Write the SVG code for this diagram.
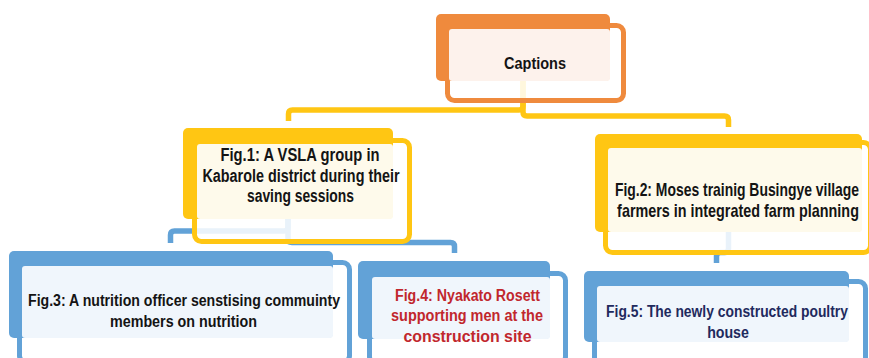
<svg xmlns="http://www.w3.org/2000/svg" width="869" height="358" viewBox="0 0 869 358">
<style>
.bg{fill:#ffffff}
.conn{fill:none;stroke-width:5.5;stroke-linejoin:round}
.cy{stroke:#FFC613}
.cb{stroke:#62A2D7}
.frame{fill:#ffffff;fill-opacity:0.86;stroke-width:5}
.o .fill{fill:#EF8A3D}.o .frame{stroke:#EF8A3D}.o .lite{fill:#FDF2EC}
.y .fill{fill:#FFC613}.y .frame{stroke:#FFC613}.y .lite{fill:#FEFAEB}
.b .fill{fill:#62A2D7}.b .frame{stroke:#62A2D7}.b .lite{fill:#F0F6FC}
text{font-family:"Liberation Sans",Arial,sans-serif;font-weight:bold;text-anchor:middle;fill:#141414}
.red{fill:#C1272D}
.navy{fill:#1F2A5E}
</style>
<rect class="bg" x="0" y="0" width="869" height="358"/>
<g id="connectors">
<path class="conn cy" d="M523,75 V106 Q523,110 519,110 H292.5 Q288.5,110 288.5,114 V121"/>
<path class="conn cy" d="M523,75 V112 Q523,116 527,116 H724.5 Q728.5,116 728.5,120 V127"/>
<path class="conn cb" d="M288,215 V227 Q288,231 284,231 H174.5 Q170.5,231 170.5,235 V243"/>
<path class="conn cb" d="M288,215 V238.5 Q288,242.5 292,242.5 H450.5 Q454.5,242.5 454.5,246.5 V253"/>
<path class="conn cb" d="M728.5,225 V248.5 Q728.5,252.5 724.5,252.5 H720.5 Q716.5,252.5 716.5,256.5 V263"/>
</g>
<g id="captions" class="o">
<rect class="frame" x="447.5" y="25.5" width="176" height="75" rx="7"/>
<rect class="fill" x="436" y="14" width="174" height="67" rx="5"/>
<rect class="lite" x="449" y="29" width="161" height="52" rx="3"/>
<text x="535" y="69" font-size="17" textLength="62" lengthAdjust="spacingAndGlyphs">Captions</text>
</g>
<g id="fig1" class="y">
<rect class="frame" x="194.5" y="140.5" width="215" height="101" rx="7"/>
<rect class="fill" x="183" y="128" width="210" height="91" rx="5"/>
<rect class="lite" x="197" y="144" width="196" height="75" rx="3"/>
<text x="300" y="161" font-size="18" textLength="159" lengthAdjust="spacingAndGlyphs">Fig.1: A VSLA group in</text>
<text x="301" y="182" font-size="18" textLength="197" lengthAdjust="spacingAndGlyphs">Kabarole district during their</text>
<text x="300.5" y="202" font-size="18" textLength="107" lengthAdjust="spacingAndGlyphs">saving sessions</text>
</g>
<g id="fig2" class="y">
<rect class="frame" x="605.5" y="142.5" width="265" height="110" rx="7"/>
<rect class="fill" x="595" y="134" width="267" height="98" rx="5"/>
<rect class="lite" x="608" y="148" width="254" height="84" rx="3"/>
<text transform="translate(737,196) scale(0.78,1)" x="0" y="0" font-size="18" textLength="313" lengthAdjust="spacingAndGlyphs">Fig.2: Moses trainig Busingye village</text>
<text transform="translate(738,217) scale(0.78,1)" x="0" y="0" font-size="18" textLength="310" lengthAdjust="spacingAndGlyphs">farmers in integrated farm planning</text>
</g>
<g id="fig3" class="b">
<rect class="frame" x="19.5" y="262.5" width="330" height="100" rx="7"/>
<rect class="fill" x="9" y="251" width="324" height="87" rx="5"/>
<rect class="lite" x="22" y="266" width="311" height="72" rx="3"/>
<text x="184" y="306" font-size="16" textLength="312" lengthAdjust="spacingAndGlyphs">Fig.3: A nutrition officer senstising commuinty</text>
<text x="183.5" y="327" font-size="16" textLength="147" lengthAdjust="spacingAndGlyphs">members on nutrition</text>
</g>
<g id="fig4" class="b">
<rect class="frame" x="369.5" y="273.5" width="196" height="90" rx="7"/>
<rect class="fill" x="358" y="261" width="192" height="78" rx="5"/>
<rect class="lite" x="372" y="277" width="178" height="62" rx="3"/>
<text class="red" x="467.5" y="300.5" font-size="16" textLength="145" lengthAdjust="spacingAndGlyphs">Fig.4: Nyakato Rosett</text>
<text class="red" x="467" y="321" font-size="16" textLength="152" lengthAdjust="spacingAndGlyphs">supporting men at the</text>
<text class="red" x="467.5" y="341.5" font-size="16" textLength="128" lengthAdjust="spacingAndGlyphs">construction site</text>
</g>
<g id="fig5" class="b">
<rect class="frame" x="594.5" y="281.5" width="271" height="85" rx="7"/>
<rect class="fill" x="584" y="271" width="265" height="71" rx="5"/>
<rect class="lite" x="597" y="286" width="252" height="56" rx="3"/>
<text class="navy" transform="translate(727,316.5) scale(0.87,1)" x="0" y="0" font-size="16" textLength="278" lengthAdjust="spacingAndGlyphs">Fig.5: The newly constructed poultry</text>
<text class="navy" transform="translate(728,338) scale(0.87,1)" x="0" y="0" font-size="16" textLength="48" lengthAdjust="spacingAndGlyphs">house</text>
</g>
</svg>
